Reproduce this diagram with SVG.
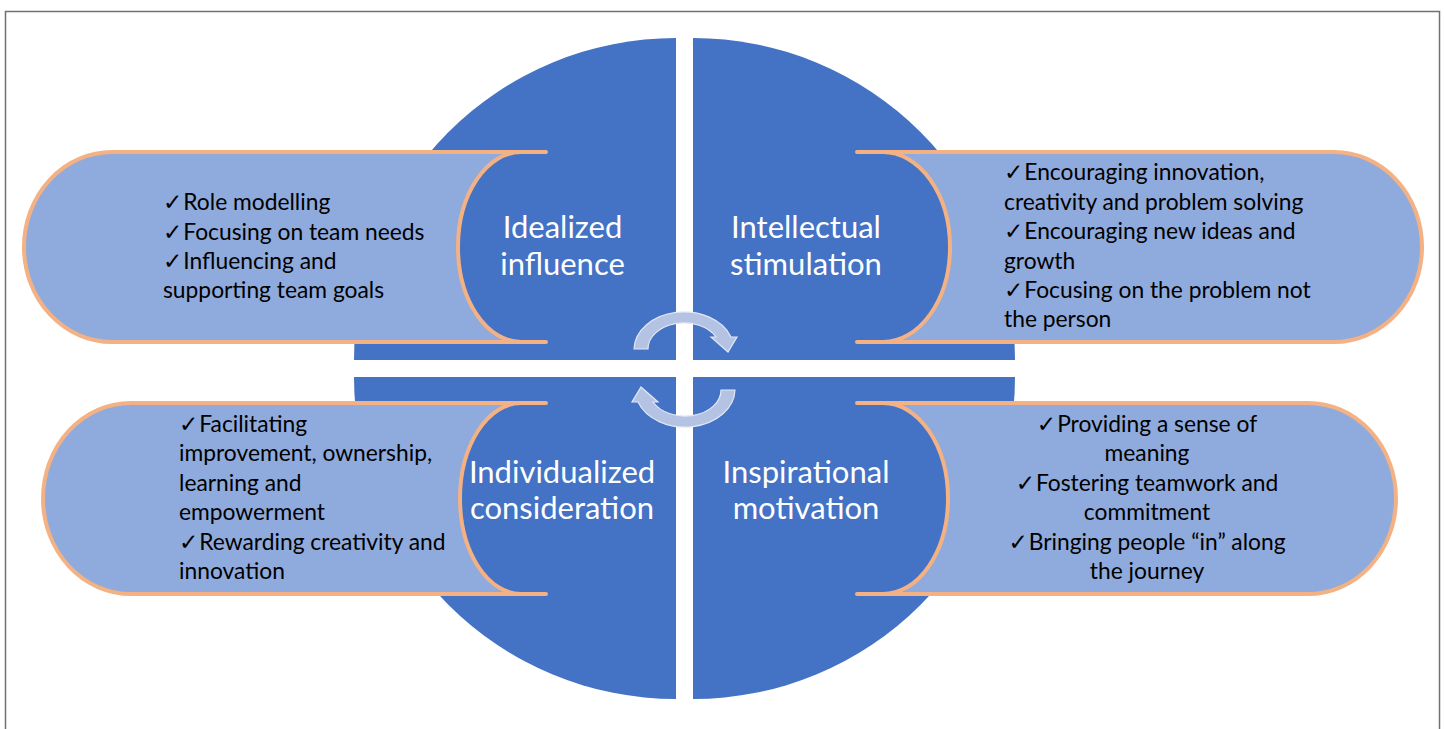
<svg xmlns="http://www.w3.org/2000/svg" width="1444" height="729" viewBox="0 0 1444 729">
  <style>
    .quad { fill: #4472C4; }
    .pill { fill: #8FAADC; stroke: none; }
    .pill-line { fill: none; stroke: #F4B183; stroke-width: 4; stroke-linecap: round; stroke-linejoin: round; }
    .title { font-family: Lato, "Open Sans", "Liberation Sans", sans-serif; font-size: 31px; fill: #FFFFFF; text-anchor: middle; }
    .body { font-family: Lato, "Open Sans", "Liberation Sans", sans-serif; font-size: 22.8px; fill: #000000; }
    .mid { text-anchor: middle; }
    .ck { font-family: "DejaVu Sans", sans-serif; font-size: 23px; }
    .cycle { fill: #B4C2E3; stroke: #E2E8F4; stroke-width: 1.2; stroke-linejoin: miter; }
  </style>

  <!-- outer frame -->
  <rect x="5.5" y="11.5" width="1434" height="740" fill="#FFFFFF" stroke="#707070" stroke-width="1.5"/>

  <!-- top-left quadrant -->
  <g id="idealized-influence">
    <path class="quad" d="M 676 360 L 354 360 A 322 322 0 0 1 676 38 Z"/>
    <path class="pill" d="M 521 152 L 112 152 A 88 95 0 0 0 112 342 L 521 342 A 63 95 0 0 1 521 152 Z"/>
    <path class="pill-line" d="M 546 152 L 112 152 A 88 95 0 0 0 112 342 L 546 342 M 521 342 A 63 95 0 0 1 521 152"/>
    <text class="title" x="562.5" y="238">Idealized</text>
    <text class="title" x="562.5" y="275">influence</text>
    <text class="body" x="163" y="210"><tspan class="ck">✓</tspan><tspan dx="1">Role modelling</tspan></text>
    <text class="body" x="163" y="239.5"><tspan class="ck">✓</tspan><tspan dx="1">Focusing on team needs</tspan></text>
    <text class="body" x="163" y="269"><tspan class="ck">✓</tspan><tspan dx="1">Influencing and</tspan></text>
    <text class="body" x="163" y="298">supporting team goals</text>
  </g>

  <!-- top-right quadrant -->
  <g id="intellectual-stimulation">
    <path class="quad" d="M 693 360 L 693 38 A 322 322 0 0 1 1015 360 Z"/>
    <path class="pill" d="M 883 152 L 1334 152 A 88 95 0 0 1 1334 342 L 883 342 A 67 95 0 0 0 883 152 Z"/>
    <path class="pill-line" d="M 857 152 L 1334 152 A 88 95 0 0 1 1334 342 L 857 342 M 883 342 A 67 95 0 0 0 883 152"/>
    <text class="title" x="806" y="238">Intellectual</text>
    <text class="title" x="806" y="275">stimulation</text>
    <text class="body" x="1004" y="180"><tspan class="ck">✓</tspan><tspan dx="1">Encouraging innovation,</tspan></text>
    <text class="body" x="1004" y="209.5">creativity and problem solving</text>
    <text class="body" x="1004" y="239"><tspan class="ck">✓</tspan><tspan dx="1">Encouraging new ideas and</tspan></text>
    <text class="body" x="1004" y="268.5">growth</text>
    <text class="body" x="1004" y="298"><tspan class="ck">✓</tspan><tspan dx="1">Focusing on the problem not</tspan></text>
    <text class="body" x="1004" y="327">the person</text>
  </g>

  <!-- bottom-left quadrant -->
  <g id="individualized-consideration">
    <path class="quad" d="M 676 377 L 676 699 A 322 322 0 0 1 354 377 Z"/>
    <path class="pill" d="M 521 403 L 131 403 A 88 95.5 0 0 0 131 594 L 521 594 A 61 95.5 0 0 1 521 403 Z"/>
    <path class="pill-line" d="M 546 403 L 131 403 A 88 95.5 0 0 0 131 594 L 546 594 M 521 594 A 61 95.5 0 0 1 521 403"/>
    <text class="title" x="562" y="483">Individualized</text>
    <text class="title" x="562" y="519">consideration</text>
    <text class="body" x="179" y="432"><tspan class="ck">✓</tspan><tspan dx="1">Facilitating</tspan></text>
    <text class="body" x="179" y="461">improvement, ownership,</text>
    <text class="body" x="179" y="490.5">learning and</text>
    <text class="body" x="179" y="520">empowerment</text>
    <text class="body" x="179" y="549.5"><tspan class="ck">✓</tspan><tspan dx="1">Rewarding creativity and</tspan></text>
    <text class="body" x="179" y="579">innovation</text>
  </g>

  <!-- bottom-right quadrant -->
  <g id="inspirational-motivation">
    <path class="quad" d="M 693 377 L 1015 377 A 322 322 0 0 1 693 699 Z"/>
    <path class="pill" d="M 883 403 L 1308 403 A 88 95.5 0 0 1 1308 594 L 883 594 A 65 95.5 0 0 0 883 403 Z"/>
    <path class="pill-line" d="M 857 403 L 1308 403 A 88 95.5 0 0 1 1308 594 L 857 594 M 883 594 A 65 95.5 0 0 0 883 403"/>
    <text class="title" x="806" y="483">Inspirational</text>
    <text class="title" x="806" y="519">motivation</text>
    <text class="body mid" x="1147" y="432"><tspan class="ck">✓</tspan><tspan dx="1">Providing a sense of</tspan></text>
    <text class="body mid" x="1147" y="461">meaning</text>
    <text class="body mid" x="1147" y="490.5"><tspan class="ck">✓</tspan><tspan dx="1">Fostering teamwork and</tspan></text>
    <text class="body mid" x="1147" y="520">commitment</text>
    <text class="body mid" x="1147" y="549.5"><tspan class="ck">✓</tspan><tspan dx="1">Bringing people “in” along</tspan></text>
    <text class="body mid" x="1147" y="579">the journey</text>
  </g>

  <!-- cycle arrows -->
  <g id="connectors">
    <path id="cycle-top" class="cycle" d="M 634 349 A 50 38 0 0 1 731 337 L 737 337 L 728 352 L 711 337 L 716 337 A 36 26 0 0 0 648 349 Z"/>
    <path id="cycle-bottom" class="cycle" transform="rotate(180 684.5 369.5)" d="M 634 349 A 50 38 0 0 1 731 337 L 737 337 L 728 352 L 711 337 L 716 337 A 36 26 0 0 0 648 349 Z"/>
  </g>
</svg>
